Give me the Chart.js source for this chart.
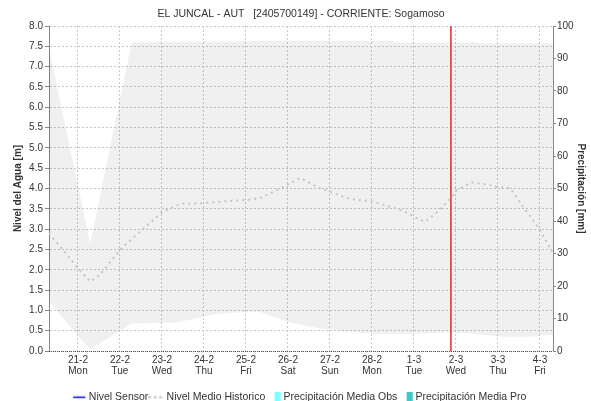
<!DOCTYPE html>
<html><head><meta charset="utf-8">
<script src="https://cdn.jsdelivr.net/npm/chart.js@4/dist/chart.umd.min.js"></script>
<style>html,body{margin:0;padding:0;background:#fff}#wrap{width:591px;height:401px}</style>
</head><body><div id="wrap"><canvas id="c" width="591" height="401"></canvas></div>
<script>
// ---- data (x in days from 20-2 00:00) ----
const chartTitle = 'EL JUNCAL - AUT   [2405700149] - CORRIENTE: Sogamoso';
const tickDates = ['21-2','22-2','23-2','24-2','25-2','26-2','27-2','28-2','1-3','2-3','3-3','4-3'];
const tickDays  = ['Mon','Tue','Wed','Thu','Fri','Sat','Sun','Mon','Tue','Wed','Thu','Fri'];
const tickPos   = [1,2,3,4,5,6,7,8,9,10,11,12];
const xMin = 0.31, xMax = 12.31;
const nowX = 9.88;

const histX = [0.31,1.00,1.29,1.52,2.00,2.48,3.02,3.43,3.98,4.55,5.02,5.33,5.74,5.98,6.29,6.69,7.00,7.48,8.02,8.43,8.74,9.07,9.26,9.57,9.91,10.02,10.38,10.74,11.00,11.29,11.60,12.00,12.29];
const histY = [2.90,2.04,1.71,1.87,2.49,2.94,3.43,3.62,3.64,3.69,3.72,3.76,3.96,4.09,4.26,4.04,3.92,3.74,3.68,3.55,3.45,3.27,3.18,3.43,3.80,3.96,4.15,4.10,4.04,4.01,3.55,2.98,2.44];

const bandUpX = [0.31,1.29,2.28,6.00,8.50,8.55,10.50,10.55,12.31];
const bandUpY = [7.47,2.64,7.60,7.64,7.63,7.60,7.60,7.57,7.57];
const bandLoX = [0.31,1.29,2.28,3.35,4.30,5.10,5.33,6.05,6.52,7.00,8.02,8.98,9.86,10.50,11.12,11.76,12.07,12.31];
const bandLoY = [1.21,0.04,0.68,0.70,0.91,0.97,0.96,0.70,0.60,0.53,0.42,0.42,0.46,0.41,0.35,0.35,0.39,0.40];

const sensorY = [];
const precipObs = [];
const precipPro = [];

const legendNames = ['Nivel Sensor','Nivel Medio Historico','Precipitación Media Obs','Precipitación Media Pro'];

// ---- legend icon helpers ----
const LEG_FS = 10.5, LEG_BW = 8, LEG_PAD = 5;
const pts = (xs, ys) => xs.map((x, i) => ({x, y: ys[i]}));
// build an icon canvas whose drawn part (contentW wide) ends `gap` px before the label text
function makeIcon(contentW, h, gap, draw){
  const rc = LEG_BW / 2 + LEG_FS / 2 - gap;
  const half = Math.max(rc, contentW - rc);
  const W = Math.ceil(2 * half);
  const c = document.createElement('canvas'); c.width = W; c.height = h;
  const g = c.getContext('2d');
  const x0 = W / 2 + rc - contentW;
  draw(g, x0, h);
  return c;
}
const icons = [
  makeIcon(12, 11, 3.5, (g, x0, h) => { g.strokeStyle = '#0000ff'; g.lineWidth = 1.5; g.beginPath(); g.moveTo(x0, h/2); g.lineTo(x0 + 12, h/2); g.stroke(); }),
  makeIcon(14, 11, 4.5, (g, x0, h) => { g.fillStyle = '#c4c4c4'; [0, 5.5, 11].forEach(d => g.fillRect(x0 + d, h/2 - 1, 3, 2)); }),
  makeIcon(6, 11, 3, (g, x0, h) => { g.fillStyle = '#80ffff'; g.fillRect(x0, 0, 6, h); }),
  makeIcon(6, 11, 3, (g, x0, h) => { g.fillStyle = '#40c8c8'; g.fillRect(x0, 0, 6, h); })
];
const FONT = "'Liberation Sans', Arial, sans-serif";

const bottomAxisLine = {
  id: 'bottomAxisLine',
  afterDatasetsDraw(chart) {
    const {ctx, chartArea: a} = chart;
    ctx.save(); ctx.strokeStyle = '#555'; ctx.lineWidth = 1; ctx.setLineDash([1,1]);
    ctx.beginPath(); ctx.moveTo(a.left, a.bottom + 0.5); ctx.lineTo(a.right, a.bottom + 0.5); ctx.stroke();
    ctx.restore();
  }
};

Chart.defaults.font.family = FONT;
Chart.defaults.color = '#333';

new Chart(document.getElementById('c'), {
  type: 'line',
  data: {
    datasets: [
      { label: legendNames[0], data: sensorY, borderColor: '#0000ff', borderWidth: 1.5, pointRadius: 0, yAxisID: 'y' },
      { label: legendNames[1], data: pts(histX, histY), borderColor: '#c4c4c4', borderWidth: 2, borderDash: [2,4], pointRadius: 0, fill: false, yAxisID: 'y' },
      { type: 'bar', label: legendNames[2], data: precipObs, backgroundColor: '#80ffff', yAxisID: 'y1' },
      { type: 'bar', label: legendNames[3], data: precipPro, backgroundColor: '#40c8c8', yAxisID: 'y1' },
      { label: 'now', data: [{x: nowX, y: 0}, {x: nowX, y: 8}], borderColor: '#e02828', borderWidth: 1.5, pointRadius: 0, fill: false, yAxisID: 'y' },
      { label: 'bandUp', data: pts(bandUpX, bandUpY), borderWidth: 0, borderColor: 'rgba(0,0,0,0)', backgroundColor: 'rgba(0,0,0,0.058)', pointRadius: 0, fill: '+1', yAxisID: 'y' },
      { label: 'bandLo', data: pts(bandLoX, bandLoY), borderWidth: 0, borderColor: 'rgba(0,0,0,0)', pointRadius: 0, fill: false, yAxisID: 'y' }
    ]
  },
  options: {
    responsive: false,
    animation: false,
    events: [],
    devicePixelRatio: 1,
    layout: { padding: 0 },
    plugins: {
      tooltip: { enabled: false },
      title: {
        display: true, text: chartTitle, fullSize: false,
        font: { size: 10.5, weight: 'normal', family: FONT, lineHeight: 1.2 },
        color: '#333', padding: { top: 8, bottom: 5.4 }
      },
      legend: {
        position: 'bottom', fullSize: false, maxHeight: 14,
        labels: {
          usePointStyle: true, pointStyleWidth: LEG_BW, boxHeight: 11, padding: LEG_PAD,
          font: { size: LEG_FS, family: FONT }, color: '#333',
          generateLabels: () => legendNames.map((t, i) => ({
            text: t, pointStyle: icons[i], fillStyle: 'rgba(0,0,0,0)', strokeStyle: 'rgba(0,0,0,0)',
            lineWidth: 0, hidden: false, datasetIndex: i, fontColor: '#333'
          }))
        }
      }
    },
    scales: {
      x: {
        type: 'linear', min: xMin, max: xMax, offset: false,
        afterBuildTicks: s => { s.ticks = tickPos.map(v => ({value: v})); },
        afterFit: s => { s.height = 36; },
        grid: { color: '#c8c8c8', lineWidth: 1, drawTicks: false, offset: false },
        border: { display: false, dash: [2,2] },
        ticks: {
          padding: 4, autoSkip: false, maxRotation: 0,
          font: { size: 10, family: FONT, lineHeight: 1.1 }, color: '#333',
          callback: (v, i) => [tickDates[i], tickDays[i]]
        }
      },
      y: {
        position: 'left', min: 0, max: 8,
        afterFit: s => { s.width = 49; },
        ticks: { stepSize: 0.5, padding: 2, font: { size: 10, family: FONT }, color: '#333', callback: v => v.toFixed(1) },
        grid: { color: '#c8c8c8', lineWidth: 1, drawTicks: true, tickLength: 4, tickColor: '#888' },
        border: { display: true, color: '#888', width: 1, dash: [2,2] },
        title: { display: true, text: 'Nivel del Agua [m]', font: { size: 10, weight: 'bold', family: FONT, lineHeight: 1.2 }, color: '#333', padding: { top: 12, bottom: 0 } }
      },
      y1: {
        position: 'right', min: 0, max: 100,
        afterFit: s => { s.width = 38; },
        ticks: { stepSize: 10, padding: 1, font: { size: 10, family: FONT }, color: '#333' },
        grid: { drawOnChartArea: false, drawTicks: true, tickLength: 3, tickColor: '#888' },
        border: { display: true, color: '#888', width: 1 },
        title: { display: true, text: 'Precipitación [mm]', font: { size: 10, weight: 'bold', family: FONT, lineHeight: 1.2 }, color: '#333', padding: { top: 4, bottom: 0 } }
      }
    }
  },
  plugins: [bottomAxisLine]
});
</script>
</body></html>
